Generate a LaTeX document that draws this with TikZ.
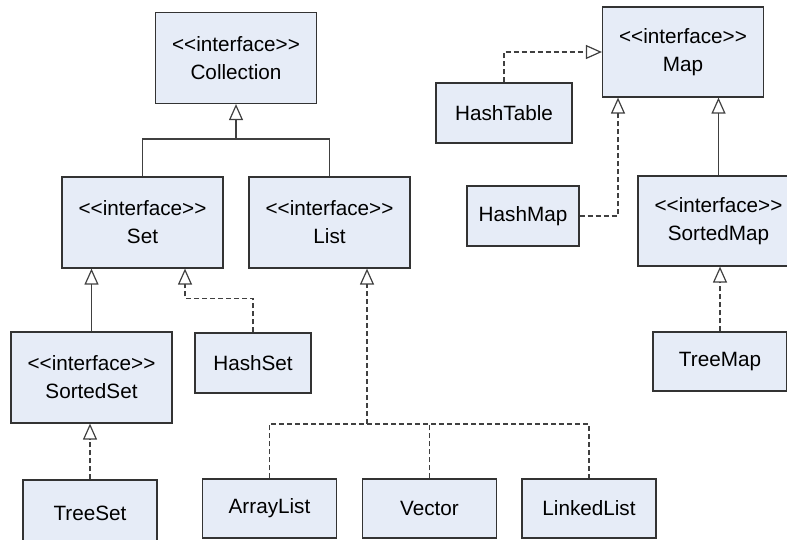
\documentclass[tikz,border=0pt]{standalone}
\usepackage{fontspec}
\setmainfont{Liberation Sans}
\definecolor{boxfill}{HTML}{E6ECF7}
\definecolor{boxline}{HTML}{333333}
\definecolor{wire}{HTML}{404040}
\usetikzlibrary{arrows.meta,calc}
\newcommand\stereo{<\kern0pt<interface>\kern0pt>}
\tikzset{
  cls/.style={draw=boxline,line width=1.2pt,fill=boxfill,align=center,
              inner sep=2pt,font=\fontsize{20.7}{28}\selectfont},
  iface/.style={cls,minimum width=161pt,minimum height=91pt},
  impl/.style={cls,minimum width=134pt,minimum height=60pt},
  inh/.style={-{Triangle[open,length=16pt,width=14pt]},wire,line width=1.2pt},
  real/.style={inh,dash pattern=on 5pt off 3pt},
  dline/.style={wire,line width=1.2pt,dash pattern=on 5pt off 3pt}
}
\begin{document}
\begin{tikzpicture}[x=1pt,y=-1pt]
  \useasboundingbox (0,0) rectangle (787,539);
  % collection side
  \node[iface] (coll) at (236,58) {\stereo\\Collection};
  \node[iface] (set) at (142.5,222.5) {\stereo\\Set};
  \node[iface] (list) at (329.5,222.5) {\stereo\\List};
  \node[iface] (sset) at (91.5,377.5) {\stereo\\SortedSet};
  \node[impl,minimum width=116pt] (hset) at (253,363) {HashSet};
  \node[impl,minimum height=66pt] (tset) at (90,513) {TreeSet};
  \node[impl,minimum height=59pt] (alist) at (269.5,508.5) {ArrayList};
  \node[impl,minimum height=59pt] (vec) at (429.5,508.5) {Vector};
  \node[impl,minimum height=59pt] (llist) at (589,508.5) {LinkedList};
  % map side
  \node[iface,minimum height=90pt] (map) at (683,52) {\stereo\\Map};
  \node[impl,minimum width=136pt] (htab) at (504,113) {HashTable};
  \node[impl,minimum width=112pt] (hmap) at (523,216) {HashMap};
  \node[iface,minimum height=90pt] (smap) at (718.5,221) {\stereo\\SortedMap};
  \node[impl,minimum height=59pt] (tmap) at (720,361.5) {TreeMap};

  \coordinate (cj) at (236,139);
  \coordinate (lj) at (367,424);
  \draw[wire,line width=1.2pt] (set.north) |- (cj) -| (list.north);
  \draw[inh] (cj) -- (coll.south);
  \draw[inh] (sset.north) -- (sset.north |- set.south);
  \draw[real] (hset.north) -- ++(0,-34) -| ([xshift=42.5pt]set.south);
  \draw[real] (tset.north) -- (tset.north |- sset.south);
  \draw[real] (lj) -- (lj |- list.south);
  \draw[dline] (alist.north) |- (lj) -| (llist.north);
  \draw[dline] (vec.north) -- (vec.north |- lj);

  \draw[real] (htab.north) |- (map.west);
  \draw[real] (hmap.east) -| ([xshift=-65pt]map.south);
  \draw[inh] (smap.north) -- (smap.north |- map.south);
  \draw[real] (tmap.north) -- (tmap.north |- smap.south);
\end{tikzpicture}
\end{document}
